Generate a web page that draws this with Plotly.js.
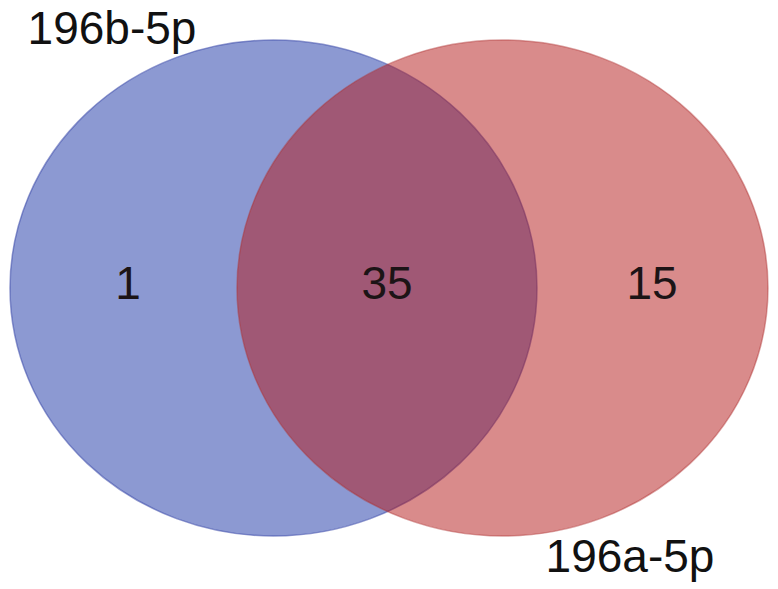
<!DOCTYPE html>
<html>
<head>
<meta charset="utf-8">
<script src="https://cdn.plot.ly/plotly-3.0.1.min.js"></script>
<style>html,body{margin:0;padding:0;background:#fff}</style>
</head>
<body>
<div id="venn" style="width:778px;height:589px"></div>
<script>
// set names and region counts
var setNames = ['196b-5p', '196a-5p'];
var regionCounts = [1, 35, 15];   // only b, both, only a

// layout in pixel-like units (y runs downward)
var circles = [
  {x0: 10, x1: 537, y0: 40, y1: 536, fill: 'rgba(25,51,165,0.5)', line: 'rgba(60,75,170,0.55)'},
  {x0: 237, x1: 768, y0: 40, y1: 536, fill: 'rgba(179,23,23,0.5)', line: 'rgba(175,50,50,0.45)'}
];
var countX = [128, 387, 652];
var countY = [287, 287, 287];
var nameX = [112, 630];
var nameY = [32, 560];

var shapes = circles.map(function (c) {
  return {
    type: 'circle', xref: 'x', yref: 'y', layer: 'below',
    x0: c.x0, x1: c.x1, y0: c.y0, y1: c.y1,
    fillcolor: c.fill,
    line: {color: c.line, width: 1.5}
  };
});

var counts = {
  x: countX, y: countY,
  text: regionCounts.map(String),
  mode: 'text', type: 'scatter',
  textposition: 'middle center',
  textfont: {family: 'Liberation Sans, Arial', size: 46, color: '#1c1416'},
  hoverinfo: 'none', showlegend: false
};
var names = {
  x: nameX, y: nameY,
  text: setNames,
  mode: 'text', type: 'scatter',
  textposition: 'middle center',
  textfont: {family: 'Liberation Sans, Arial', size: 46, color: '#111'},
  hoverinfo: 'none', showlegend: false
};

var layout = {
  width: 778, height: 589,
  margin: {l: 0, r: 0, t: 0, b: 0},
  paper_bgcolor: '#fff', plot_bgcolor: 'rgba(0,0,0,0)',
  xaxis: {range: [0, 778], visible: false, fixedrange: true},
  yaxis: {range: [589, 0], visible: false, fixedrange: true},
  shapes: shapes,
  showlegend: false
};

Plotly.newPlot('venn', [counts, names], layout, {displayModeBar: false, staticPlot: true});
</script>
</body>
</html>
